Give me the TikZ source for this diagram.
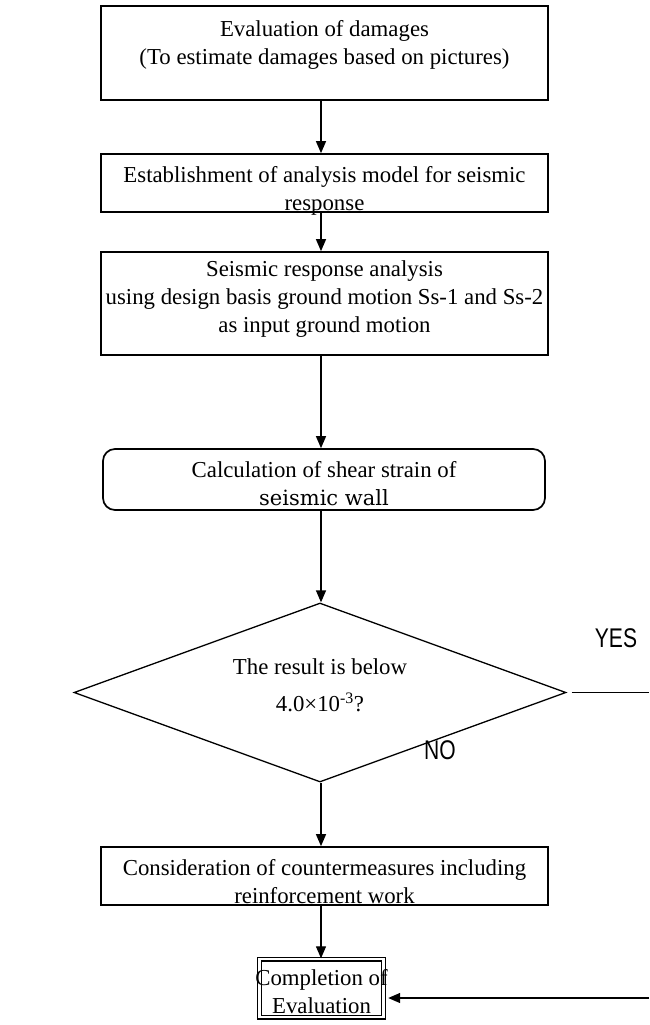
\documentclass[tikz,border=0pt]{standalone}
\usepackage{fontspec}
\setmainfont{Liberation Serif}
\newfontfamily\sansf{Liberation Sans}
\newfontfamily\altserif{DejaVu Serif}
\usetikzlibrary{shapes.geometric,arrows.meta}
\begin{document}
\begin{tikzpicture}[x=1pt,y=-1pt,
  boxstyle/.style={draw,line width=1.7pt,minimum width=447pt,inner sep=0pt},
  txt/.style={align=center,font=\fontsize{22.8}{28}\selectfont,inner sep=0pt},
  arr/.style={line width=1.3pt,-{Triangle[length=12pt,width=10pt]}},
  yn/.style={font=\sansf\fontsize{27}{30}\selectfont,xscale=0.78,inner sep=0pt}]
\useasboundingbox (0,0) rectangle (649,1025);
\coordinate (ax) at (321,0);
% boxes
\node[boxstyle,minimum height=94pt] (b1) at (324.5,53) {};
\node[txt] (t1) at (324.5,45) {Evaluation of damages\\(To estimate damages based on pictures)};
\node[boxstyle,minimum height=58pt] (b2) at (324.5,183) {};
\node[txt] (t2) at (324.5,191) {Establishment of analysis model for seismic\\response};
\node[boxstyle,minimum height=103pt] (b3) at (324.5,303.5) {};
\node[txt] (t3) at (324.5,299.5) {Seismic response analysis\\using design basis ground motion Ss-1 and Ss-2\\as input ground motion};
\node[boxstyle,rounded corners=12pt,minimum width=442pt,minimum height=61pt] (b4) at (324,479.5) {};
\node[txt] (t4) at (324,484) {Calculation of shear strain of\\{\altserif\fontsize{21}{28}\selectfont seismic wall}};
\node[draw,diamond,line width=1.3pt,minimum width=492pt,minimum height=179pt,inner sep=0pt] (d) at (320,692.5) {};
\node[txt,font=\fontsize{22.8}{37}\selectfont] (td) at (320,685) {The result is below\\4.0×10\textsuperscript{-3}?};
\node[boxstyle,minimum height=58pt] (b5) at (324.5,876) {};
\node[txt] (t5) at (324.5,882) {Consideration of countermeasures including\\reinforcement work};
\node[draw,double,double distance=2.2pt,line width=1.4pt,minimum width=124pt,minimum height=58pt,inner sep=0pt] (b6) at (321.5,988) {};
\node[txt] (t6) at (321.5,992) {Completion of\\Evaluation};
% labels
\node[yn] (yes) at (616,638) {YES};
\node[yn] (no) at (440,750) {NO};
% connectors
\coordinate (ye) at (649,692.5);
\coordinate (re) at (649,998);
\draw[arr] (b1.south -| ax) -- (b2.north -| ax);
\draw[arr] (b2.south -| ax) -- (b3.north -| ax);
\draw[arr] (b3.south -| ax) -- (b4.north -| ax);
\draw[arr] (b4.south -| ax) -- (d.north -| ax);
\draw[arr] (d.south -| ax) -- (b5.north -| ax);
\draw[arr] (b5.south -| ax) -- (b6.north -| ax);
\draw[line width=1.3pt] ([xshift=5pt]d.east) -- (ye);
\draw[arr] (re) -- ([xshift=4pt]re -| b6.east);
\end{tikzpicture}
\end{document}
